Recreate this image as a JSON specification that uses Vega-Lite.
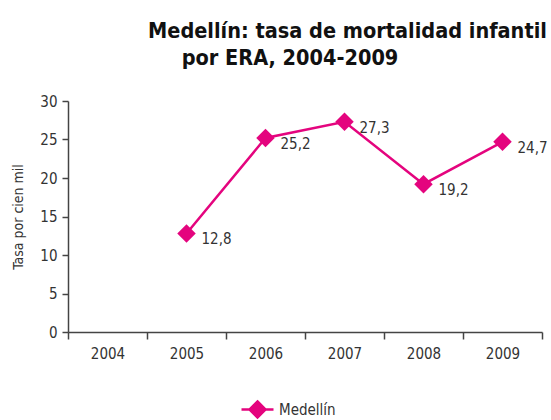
{
  "$schema": "https://vega.github.io/schema/vega-lite/v6.json",
  "width": 474,
  "height": 231,
  "autosize": {"type": "none"},
  "padding": {"left": 68, "top": 101, "right": 9, "bottom": 88},
  "config": {
    "locale": {"number": {"decimal": ",", "thousands": ".", "grouping": [3], "currency": ["$", ""]}},
    "font": "DejaVu Sans Condensed",
    "view": {"stroke": null},
    "axis": {
      "domainColor": "#444",
      "tickColor": "#444",
      "labelColor": "#333",
      "titleColor": "#333",
      "labelFont": "DejaVu Sans Condensed",
      "titleFont": "DejaVu Sans Condensed",
      "labelFontSize": 15,
      "grid": false,
      "domainWidth": 1.5,
      "tickWidth": 1.5
    }
  },
  "title": {
    "text": ["Medellín: tasa de mortalidad infantil", "\u200b\u00a0\u00a0\u00a0\u00a0\u00a0por ERA, 2004-2009"],
    "anchor": "start",
    "frame": "group",
    "dx": 80,
    "offset": 25,
    "fontSize": 21.5,
    "fontWeight": "bold",
    "font": "DejaVu Sans Condensed",
    "color": "#111",
    "lineHeight": 27
  },
  "data": {
    "values": [
      {"year": "2005", "serie": "Medellín", "tasa": 12.8},
      {"year": "2006", "serie": "Medellín", "tasa": 25.2},
      {"year": "2007", "serie": "Medellín", "tasa": 27.3},
      {"year": "2008", "serie": "Medellín", "tasa": 19.2},
      {"year": "2009", "serie": "Medellín", "tasa": 24.7}
    ]
  },
  "encoding": {
    "x": {
      "field": "year",
      "type": "ordinal",
      "scale": {"domain": ["2004", "2005", "2006", "2007", "2008", "2009"], "paddingInner": 0, "paddingOuter": 0},
      "axis": {"title": null, "labelAngle": 0, "tickBand": "extent", "tickSize": 7, "labelPadding": 7}
    },
    "y": {
      "field": "tasa",
      "type": "quantitative",
      "scale": {"domain": [0, 30]},
      "axis": {
        "title": "Tasa por cien mil",
        "values": [0, 5, 10, 15, 20, 25, 30],
        "tickSize": 6,
        "labelPadding": 5,
        "titleFontSize": 14,
        "titleFontWeight": "normal",
        "titlePadding": 14
      }
    }
  },
  "layer": [
    {
      "mark": {"type": "line", "color": "#e4047e", "strokeWidth": 2.5}
    },
    {
      "mark": {"type": "point", "shape": "diamond", "filled": true, "size": 340, "opacity": 1},
      "encoding": {
        "color": {
          "field": "serie",
          "type": "nominal",
          "scale": {"range": ["#e4047e"]},
          "legend": {
            "orient": "none",
            "legendX": 172,
            "legendY": 291,
            "title": null,
            "symbolType": "M-1,0H1M0,-0.5L0.5,0L0,0.5L-0.5,0Z",
            "symbolSize": 1024,
            "symbolStrokeWidth": 2.5,
            "symbolStrokeColor": "#e4047e",
            "symbolFillColor": "#e4047e",
            "symbolOpacity": 1,
            "labelFontSize": 15,
            "labelFont": "DejaVu Sans Condensed",
            "labelColor": "#333"
          }
        }
      }
    },
    {
      "mark": {"type": "text", "align": "left", "baseline": "middle", "dx": 15, "dy": 6, "fontSize": 15, "color": "#333"},
      "encoding": {"text": {"field": "tasa", "type": "quantitative", "format": ".1f"}}
    }
  ]
}
